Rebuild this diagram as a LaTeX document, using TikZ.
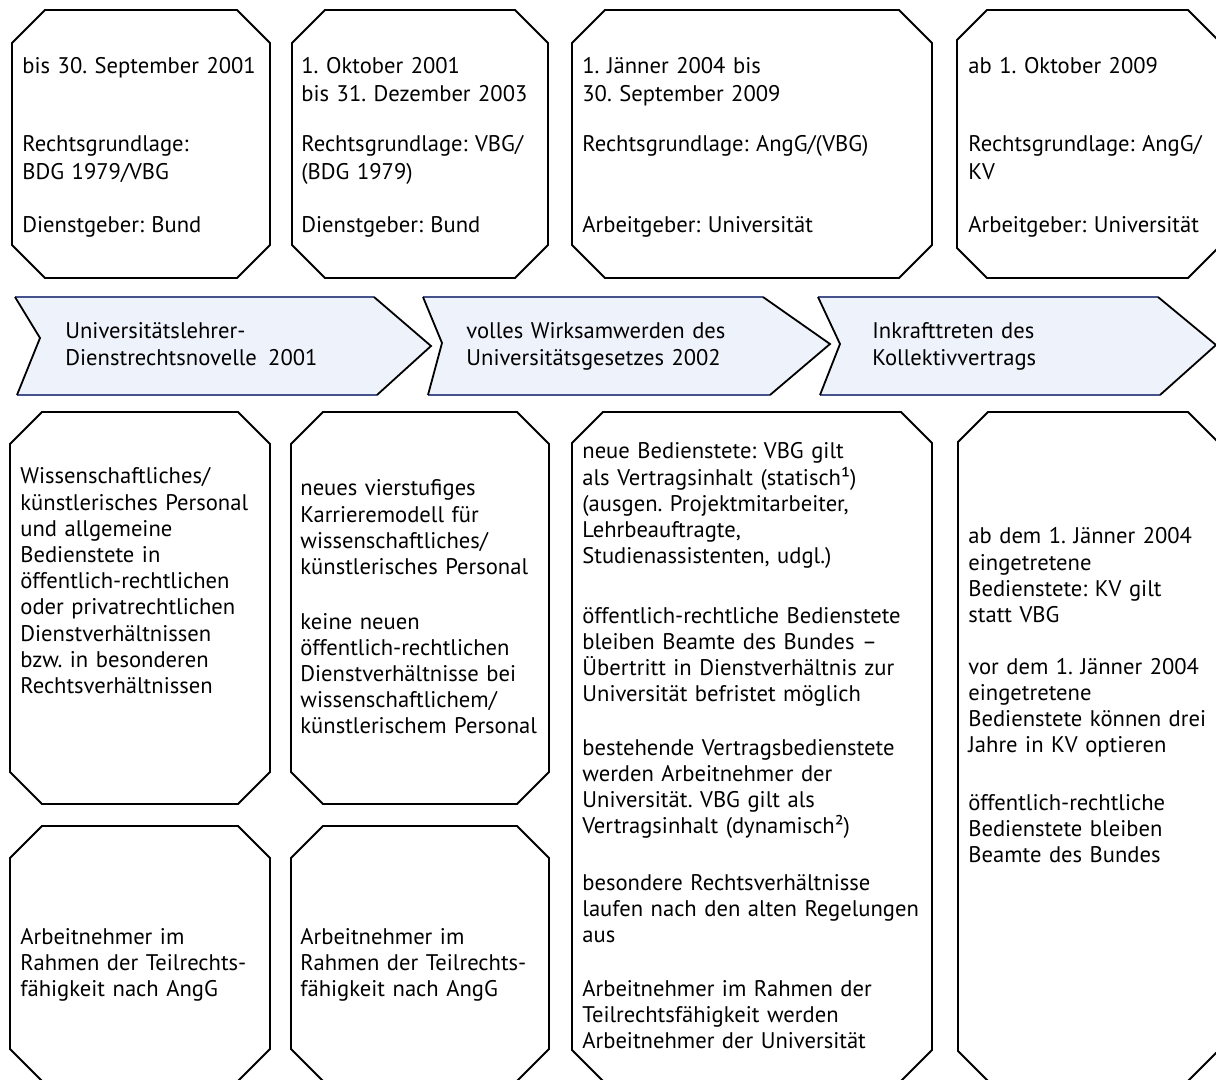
\documentclass[tikz,border=0pt]{standalone}
\usepackage{fontspec}
\setmainfont{PT Sans}
\definecolor{arrowfill}{RGB}{238,242,250}
\definecolor{arrowedge}{RGB}{70,82,140}
\newcommand\ChamBox[5]{%
  \draw[boxline] (#1+#5,#2) -- (#3-#5,#2) -- (#3,#2+#5) -- (#3,#4-#5) -- (#3-#5,#4) -- (#1+#5,#4) -- (#1,#4-#5) -- (#1,#2+#5) -- cycle;}
\begin{document}
\frenchspacing
\begin{tikzpicture}[x=0.5pt,y=-0.5pt,
  boxline/.style={draw=black,line width=0.9pt,line join=miter},
  toptext/.style={anchor=base west,inner sep=0pt,align=left,text width=200pt,font=\fontsize{11.3}{14}\selectfont},
  bottext/.style={anchor=base west,inner sep=0pt,align=left,text width=200pt,font=\fontsize{11.3}{13.1}\selectfont},
  arrtext/.style={anchor=base west,inner sep=0pt,align=left,text width=200pt,font=\fontsize{11.3}{13.5}\selectfont}]
\useasboundingbox (0,0) rectangle (1216,1080);
\clip (0,0) rectangle (1216,1080);
\fill[white] (0,0) rectangle (1216,1080);

% ---------- top row boxes ----------
\ChamBox{12}{10}{270}{278}{33}
\ChamBox{292}{10}{548}{278}{33}
\ChamBox{572}{10}{932}{278}{33}
\ChamBox{957}{10}{1218}{278}{30}

\node[toptext] (t1a) at (22,74) {bis 30. September 2001};
\node[toptext] (t1b) at (22,152) {Rechtsgrundlage:\\BDG 1979/VBG};
\node[toptext] (t1c) at (22,233) {Dienstgeber: Bund};

\node[toptext] (t2a) at (301,74) {1. Oktober 2001\\bis 31. Dezember 2003};
\node[toptext] (t2b) at (301,152) {Rechtsgrundlage: VBG/\\(BDG 1979)};
\node[toptext] (t2c) at (301,233) {Dienstgeber: Bund};

\node[toptext] (t3a) at (582,74) {1. Jänner 2004 bis\\30. September 2009};
\node[toptext] (t3b) at (582,152) {Rechtsgrundlage: AngG/(VBG)};
\node[toptext] (t3c) at (582,233) {Arbeitgeber: Universität};

\node[toptext] (t4a) at (968,74) {ab 1. Oktober 2009};
\node[toptext] (t4b) at (968,152) {Rechtsgrundlage: AngG/\\KV};
\node[toptext] (t4c) at (968,233) {Arbeitgeber: Universität};

% ---------- arrows ----------
\fill[arrowfill] (15,297) -- (374,297) -- (431,346) -- (377,395) -- (17,395) -- (40,338) -- cycle;
\draw[arrowedge,line width=1pt] (15,297) -- (374,297) (377,395) -- (17,395);
\draw[black,line width=0.9pt] (15,297) -- (40,338) -- (17,395) (374,297) -- (431,346) -- (377,395);

\fill[arrowfill] (423,297) -- (763,297) -- (830,344) -- (770,395) -- (428,395) -- (442,343) -- cycle;
\draw[arrowedge,line width=1pt] (423,297) -- (763,297) (770,395) -- (428,395);
\draw[black,line width=0.9pt] (423,297) -- (442,343) -- (428,395) (763,297) -- (830,344) -- (770,395);

\fill[arrowfill] (818,297) -- (1158,297) -- (1216,345) -- (1160,395) -- (820,395) -- (840,344) -- cycle;
\draw[arrowedge,line width=1pt] (818,297) -- (1158,297) (1160,395) -- (820,395);
\draw[black,line width=0.9pt] (818,297) -- (840,344) -- (820,395) (1158,297) -- (1216,345) -- (1160,395);

\node[arrtext] (a1) at (65,339) {Universitätslehrer-\\Dienstrechtsnovelle\enspace 2001};
\node[arrtext] (a2) at (466,339) {volles Wirksamwerden des\\Universitätsgesetzes 2002};
\node[arrtext] (a3) at (872,339) {Inkrafttreten des\\Kollektivvertrags};

% ---------- lower boxes ----------
\ChamBox{10}{412}{270}{804}{32}
\ChamBox{291}{412}{549}{804}{32}
\ChamBox{10}{826}{270}{1081}{32}
\ChamBox{291}{826}{549}{1081}{32}
\ChamBox{572}{412}{932}{1081}{31}
\ChamBox{958}{412}{1218}{1081}{30}

\node[bottext] (b1) at (20,484) {Wissenschaftliches/\\künstlerisches Personal\\und allgemeine\\Bedienstete in\\öffentlich-rechtlichen\\oder privatrechtlichen\\Dienstverhältnissen\\bzw. in besonderen\\Rechtsverhältnissen};

\node[bottext] (b2a) at (300,496) {neues vierstufiges\\Karrieremodell für\\wissenschaftliches/\\künstlerisches Personal};
\node[bottext] (b2b) at (300,629) {keine neuen\\öffentlich-rechtlichen\\Dienstverhältnisse bei\\wissenschaftlichem/\\künstlerischem Personal};

\node[bottext] (b3a) at (582,459) {neue Bedienstete: VBG gilt\\als Vertragsinhalt (statisch¹)\\(ausgen. Projektmitarbeiter,\\Lehrbeauftragte,\\Studienassistenten, udgl.)};
\node[bottext] (b3b) at (582,623) {öffentlich-rechtliche Bedienstete\\bleiben Beamte des Bundes --\\Übertritt in Dienstverhältnis zur\\Universität befristet möglich};
\node[bottext] (b3c) at (582,755) {bestehende Vertragsbedienstete\\werden Arbeitnehmer der\\Universität. VBG gilt als\\Vertragsinhalt (dynamisch²)};
\node[bottext] (b3d) at (582,890) {besondere Rechtsverhältnisse\\laufen nach den alten Regelungen\\aus};
\node[bottext] (b3e) at (582,996) {Arbeitnehmer im Rahmen der\\Teilrechtsfähigkeit werden\\Arbeitnehmer der Universität};

\node[bottext] (b4a) at (968,544) {ab dem 1. Jänner 2004\\eingetretene\\Bedienstete: KV gilt\\statt VBG};
\node[bottext] (b4b) at (968,674) {vor dem 1. Jänner 2004\\eingetretene\\Bedienstete können drei\\Jahre in KV optieren};
\node[bottext] (b4c) at (968,810) {öffentlich-rechtliche\\Bedienstete bleiben\\Beamte des Bundes};

\node[bottext] (b5) at (20,944) {Arbeitnehmer im\\Rahmen der Teilrechts-\\fähigkeit nach AngG};
\node[bottext] (b6) at (300,944) {Arbeitnehmer im\\Rahmen der Teilrechts-\\fähigkeit nach AngG};
\end{tikzpicture}
\end{document}
